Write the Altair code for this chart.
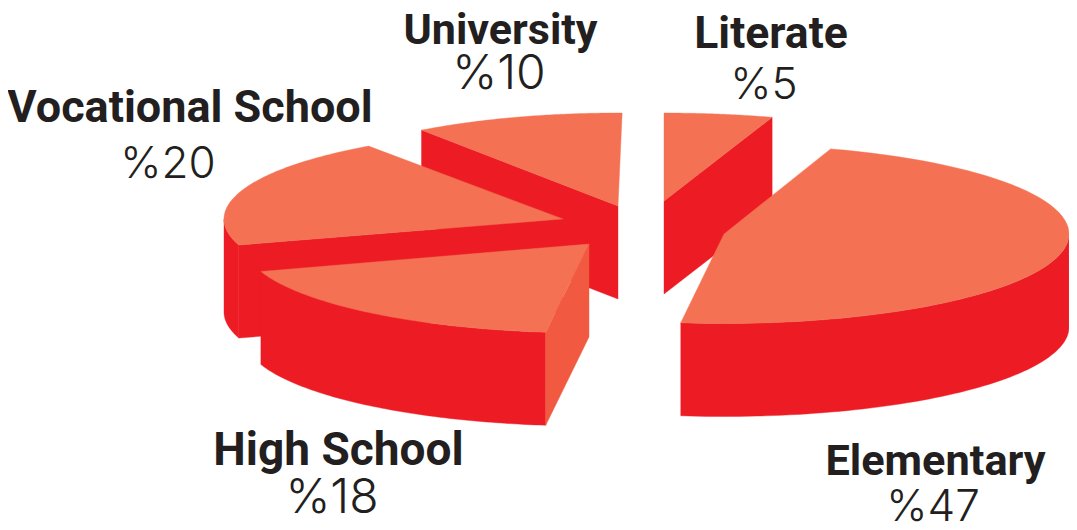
import math
import altair as alt

CATEGORIES = ["Literate", "Elementary", "High School", "Vocational School", "University"]
SHARES = [5, 47, 18, 20, 10]

# Layout of the exploded pie: apex (page px), radii, rotation (deg)
GEOM = {
    "Literate":          dict(cx=664, cy=201, rx=350, ry=88, rot=0),
    "Elementary":        dict(cx=724, cy=234, rx=345, ry=89.5, rot=0),
    "High School":       dict(cx=589, cy=244, rx=345, ry=89, rot=0),
    "Vocational School": dict(cx=563, cy=219, rx=339, ry=89, rot=-1),
    "University":        dict(cx=618, cy=206, rx=340, ry=93, rot=-0.7),
}
DEPTH = 93
TOP, WALL, CUT = "#F47153", "#ED1C24", "#F15A40"
INK = "#231F20"
OFF = 8  # page margin


def spans():
    out, a = {}, 90.0
    for c, s in zip(CATEGORIES, SHARES):
        out[c] = (a, a - s * 3.6)   # clockwise from twelve o'clock
        a -= s * 3.6
    return out


SP = spans()


def rim(c, a0, a1, n=70, dy=0):
    g = GEOM[c]
    r = g["rot"]
    pts = []
    for i in range(n + 1):
        t = math.radians(a0 + (a1 - a0) * i / n + r)
        pts.append([g["cx"] + g["rx"] * math.cos(t) - OFF,
                    g["cy"] - g["ry"] * math.sin(t) + dy - OFF])
    return pts


def feat(coords, part):
    coords = coords + [coords[0]]
    return {"type": "Feature", "properties": {"part": part},
            "geometry": {"type": "Polygon", "coordinates": [coords]}}


def top(c):
    a0, a1 = SP[c]
    g = GEOM[c]
    return feat([[g["cx"] - OFF, g["cy"] - OFF]] + rim(c, a0, a1), "top")


def wall(c, a0, a1):
    return feat(rim(c, a0, a1) + rim(c, a1, a0, dy=DEPTH), "wall")


def cut(c, a, part="wall"):
    g = GEOM[c]
    p = rim(c, a, a, n=1)[0]
    ax, ay = g["cx"] - OFF, g["cy"] - OFF
    return feat([[ax, ay], p, [p[0], p[1] + DEPTH], [ax, ay + DEPTH]], part)


features = [
    cut("University", SP["University"][0]),
    top("University"),
    cut("Literate", SP["Literate"][1]),
    top("Literate"),
    wall("Vocational School", SP["Vocational School"][0], -179),
    cut("Vocational School", SP["Vocational School"][0]),
    top("Vocational School"),
    wall("High School", SP["High School"][0], SP["High School"][1]),
    cut("High School", SP["High School"][0], "cut"),
    top("High School"),
    wall("Elementary", SP["Elementary"][1], 1),
    top("Elementary"),
]

pie = alt.Chart(alt.Data(values=features)).mark_geoshape(strokeWidth=0.4).encode(
    fill=alt.Fill("properties.part:N", legend=None,
                  scale=alt.Scale(domain=["top", "wall", "cut"], range=[TOP, WALL, CUT])),
    stroke=alt.Stroke("properties.part:N", legend=None,
                      scale=alt.Scale(domain=["top", "wall", "cut"], range=[TOP, WALL, CUT])),
).project(type="identity", scale=1, translate=[0, 0])

# label centres / baselines / sizes on the page
NAME_POS = {"University": (500.5, 44, 43), "Literate": (771, 48, 44.5), "Vocational School": (190, 122, 45),
            "High School": (338.5, 465, 46), "Elementary": (935.5, 475, 43.3)}
PCT_POS = {"University": (499, 89, 48), "Literate": (764, 99, 44), "Vocational School": (168, 178, 44),
           "High School": (332, 513, 48), "Elementary": (933, 521, 44)}

rows = []
for c, s in zip(CATEGORIES, SHARES):
    rows.append({"t": c, "x": NAME_POS[c][0] - OFF, "y": NAME_POS[c][1] - OFF, "k": "name", "s": NAME_POS[c][2]})
    rows.append({"t": f"%{s}", "x": PCT_POS[c][0] - OFF, "y": PCT_POS[c][1] - OFF, "k": "pct", "s": PCT_POS[c][2]})

base = alt.Chart(alt.Data(values=rows)).encode(
    x=alt.X("x:Q", scale=None), y=alt.Y("y:Q", scale=None), text="t:N",
    size=alt.Size("s:Q", scale=None))
names = base.transform_filter("datum.k == 'name'").mark_text(
    font="Roboto", fontWeight="bold", color=INK, align="center", baseline="alphabetic")
pcts = base.transform_filter("datum.k == 'pct'").mark_text(
    font="Inter", fontWeight=300, color=INK, align="center", baseline="alphabetic")

chart = alt.layer(pie, names, pcts).properties(
    width=1061, height=514, padding=0, background="white",
    autosize=alt.AutoSizeParams(type="none"),
).configure_view(stroke=None)

chart.save("out.html", embed_options={"renderer": "svg", "actions": False})
